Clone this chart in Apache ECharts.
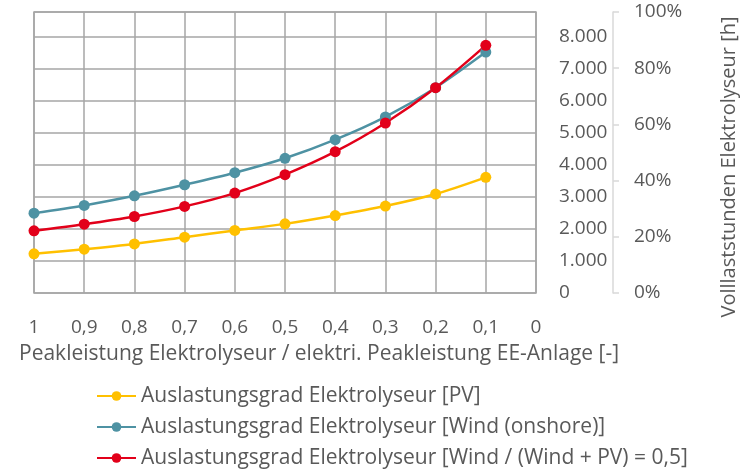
<!DOCTYPE html>
<html>
<head>
<meta charset="utf-8">
<script src="https://cdn.jsdelivr.net/npm/echarts@6/dist/echarts.min.js"></script>
<style>html,body{margin:0;padding:0;background:#fff}#c{width:744px;height:471px}</style>
</head>
<body>
<div id="c"></div>
<script>
const xValues = [1, 0.9, 0.8, 0.7, 0.6, 0.5, 0.4, 0.3, 0.2, 0.1];
const pvHours = [1220, 1365, 1530, 1740, 1950, 2155, 2415, 2710, 3085, 3605];
const windHours = [2490, 2730, 3030, 3375, 3750, 4200, 4780, 5490, 6400, 7510];
const mixHours = [1940, 2145, 2385, 2700, 3115, 3690, 4405, 5300, 6400, 7720];
const seriesNames = [
  'Auslastungsgrad Elektrolyseur [PV]',
  'Auslastungsgrad Elektrolyseur [Wind (onshore)]',
  'Auslastungsgrad Elektrolyseur [Wind / (Wind + PV) = 0,5]'
];
const xAxisTitle = 'Peakleistung Elektrolyseur / elektri. Peakleistung EE-Anlage [-]';
const yAxisTitle = 'Volllaststunden Elektrolyseur [h]';
const hoursPerYear = 8760;

const FONT = 'Open Sans';
const TXT = '#595959';
const GRID = '#a6a6a6';
const colors = ['#FFC000', '#4E92A3', '#E2001A'];

const pair = arr => xValues.map((x, i) => [x, arr[i]]);
const chart = echarts.init(document.getElementById('c'));
chart.setOption({
  animation: false,
  textStyle: { fontFamily: FONT, color: TXT },
  grid: { left: 34, right: 208, top: 12, bottom: 178, show: true, borderColor: GRID, borderWidth: 1.5 },
  xAxis: {
    type: 'value', min: 0, max: 1, interval: 0.1, inverse: true,
    axisLine: { show: false }, axisTick: { show: false },
    splitLine: { show: true, lineStyle: { color: GRID, width: 1.5 } },
    axisLabel: { margin: 25, fontSize: 19, color: TXT, fontFamily: FONT,
      showMinLabel: true, showMaxLabel: true,
      formatter: v => String(+v.toFixed(1)).replace('.', ',') }
  },
  yAxis: [{
    type: 'value', position: 'right', min: 0, max: hoursPerYear, interval: 1000,
    axisLine: { show: false }, axisTick: { show: false },
    splitLine: { show: true, lineStyle: { color: GRID, width: 1.5 } },
    axisLabel: { margin: 23, fontSize: 19, color: TXT, fontFamily: FONT,
      formatter: v => v > 8000 ? '' : (v === 0 ? '0' : (v / 1000).toFixed(3)) }
  }, {
    type: 'value', position: 'right', offset: 77, min: 0, max: 100, interval: 20,
    axisLine: { show: true, lineStyle: { color: '#d9d9d9', width: 1.5 } },
    axisTick: { show: true, length: 6, lineStyle: { color: '#d9d9d9', width: 1.5 } },
    splitLine: { show: false },
    axisLabel: { margin: 21, fontSize: 19, color: TXT, fontFamily: FONT, formatter: '{value}%' }
  }],
  legend: {
    orient: 'vertical', left: 91, top: 379, height: 92, itemWidth: 39, itemHeight: 12, itemGap: 7,
    textStyle: { fontSize: 21, color: TXT, fontFamily: FONT, lineHeight: 24 },
    data: seriesNames
  },
  graphic: [
    { type: 'text', left: 19, top: 344, style: { text: xAxisTitle, font: '21px "Open Sans"', fill: TXT } },
    { type: 'text', x: 729, y: 167, rotation: Math.PI / 2,
      style: { text: yAxisTitle, font: '20px "Open Sans"', fill: TXT, align: 'center', verticalAlign: 'middle' } }
  ],
  series: [pvHours, windHours, mixHours].map((d, i) => ({
    name: seriesNames[i], type: 'line', data: pair(d), smooth: 0.3,
    symbol: 'circle', symbolSize: 11, color: colors[i],
    lineStyle: { width: 2.5, color: colors[i] }, itemStyle: { color: colors[i] }
  }))
});
</script>
</body>
</html>
